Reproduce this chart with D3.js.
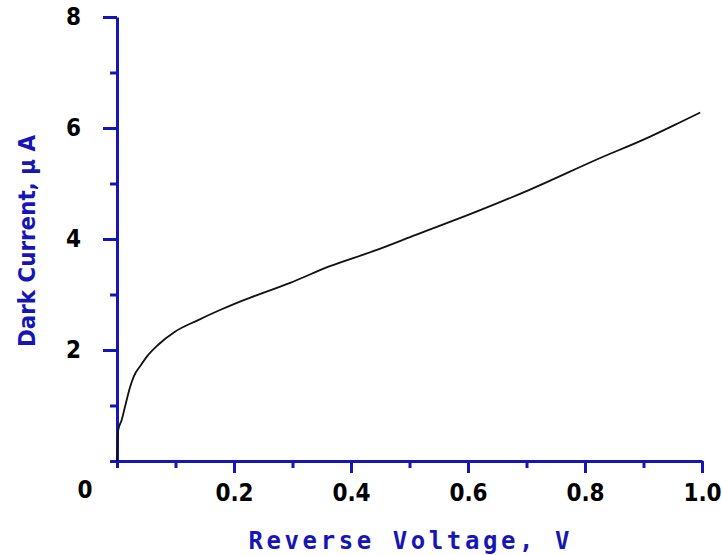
<!DOCTYPE html>
<html>
<head>
<meta charset="utf-8">
<script src="https://cdn.jsdelivr.net/npm/d3@7"></script>
<style>
  body { margin: 0; background: #fff; }
  svg { display: block; }
</style>
</head>
<body>
<div id="chart"></div>
<script>
// dark current vs reverse voltage
const voltage = [0, 0.002, 0.008, 0.014, 0.022, 0.029, 0.041, 0.051, 0.070, 0.099, 0.137, 0.176, 0.205,
  0.227, 0.296, 0.364, 0.438, 0.512, 0.609, 0.706, 0.826, 0.900, 0.962, 0.997];
const current = [0, 0.55, 0.74, 0.99, 1.32, 1.53, 1.73, 1.88, 2.09, 2.33, 2.53, 2.72, 2.85,
  2.94, 3.21, 3.51, 3.78, 4.08, 4.47, 4.89, 5.46, 5.79, 6.10, 6.28];

const xTicks = [0.2, 0.4, 0.6, 0.8, 1.0];
const xMinorTicks = [0, 0.1, 0.3, 0.5, 0.7, 0.9];
const yTicks = [2, 4, 6, 8];
const yMinorTicks = [0, 1, 3, 5, 7];

const xTitle = "Reverse Voltage, V";
const yTitle = "Dark Current, \u03bc A";

const blue = "#1616b4";
const labelFont = "'Liberation Sans Narrow', 'Arial Narrow', 'DejaVu Sans Condensed', sans-serif";
const width = 722, height = 555;
const margin = { top: 17, right: 20, bottom: 94, left: 117 };

const svg = d3.select("#chart")
    .append("svg")
    .attr("width", width)
    .attr("height", height);

const x = d3.scaleLinear()
    .domain([0, 1])
    .range([margin.left, width - margin.right]);

const y = d3.scaleLinear()
    .domain([0, 8])
    .range([height - margin.bottom, margin.top]);

// minor ticks first, majors drawn on top
svg.append("g")
    .attr("transform", `translate(0,${y(0)})`)
    .call(d3.axisBottom(x).tickValues(xMinorTicks).tickSize(7).tickFormat(""))
    .call(g => g.select(".domain").remove());

svg.append("g")
    .attr("transform", `translate(${x(0)},0)`)
    .call(d3.axisLeft(y).tickValues(yMinorTicks).tickSize(7).tickFormat(""))
    .call(g => g.select(".domain").remove());

const xAxis = svg.append("g")
    .attr("transform", `translate(0,${y(0)})`)
    .call(d3.axisBottom(x).tickValues(xTicks).tickSize(12).tickPadding(11)
        .tickSizeOuter(0).tickFormat(d3.format(".1f")));

const yAxis = svg.append("g")
    .attr("transform", `translate(${x(0)},0)`)
    .call(d3.axisLeft(y).tickValues(yTicks).tickSize(14).tickPadding(22)
        .tickSizeOuter(0).tickFormat(d3.format("d")));

svg.selectAll(".tick line, .domain")
    .attr("stroke", blue)
    .attr("stroke-width", 3);

svg.selectAll(".tick text")
    .attr("fill", "#000")
    .style("font-family", labelFont)
    .style("font-weight", "bold")
    .style("font-size", "24px");

xAxis.selectAll(".tick text").attr("dy", "0.71em");

// origin label sits in the corner below the axes
svg.append("text")
    .attr("x", x(0) - 32)
    .attr("y", y(0) + 37)
    .attr("text-anchor", "middle")
    .style("font-family", labelFont)
    .style("font-weight", "bold")
    .style("font-size", "24px")
    .text("0");

// curve
const line = d3.line()
    .x(d => x(d[0]))
    .y(d => y(d[1]))
    .curve(d3.curveMonotoneX);

svg.append("path")
    .datum(voltage.map((v, i) => [v, current[i]]))
    .attr("fill", "none")
    .attr("stroke", "#111")
    .attr("stroke-width", 1.8)
    .attr("d", line);

// axis titles
svg.append("text")
    .attr("x", 409)
    .attr("y", 549)
    .attr("text-anchor", "middle")
    .attr("fill", blue)
    .attr("textLength", 321)
    .attr("lengthAdjust", "spacing")
    .style("font-family", "'DejaVu Sans Mono', monospace")
    .style("font-weight", "bold")
    .style("font-size", "24px")
    .text(xTitle);

svg.append("text")
    .attr("transform", "translate(35,241) rotate(-90)")
    .attr("text-anchor", "middle")
    .attr("fill", blue)
    .attr("textLength", 212)
    .attr("lengthAdjust", "spacingAndGlyphs")
    .style("font-family", "'DejaVu Sans Condensed', 'DejaVu Sans', sans-serif")
    .style("font-weight", "bold")
    .style("font-size", "23px")
    .text(yTitle);
</script>
</body>
</html>
